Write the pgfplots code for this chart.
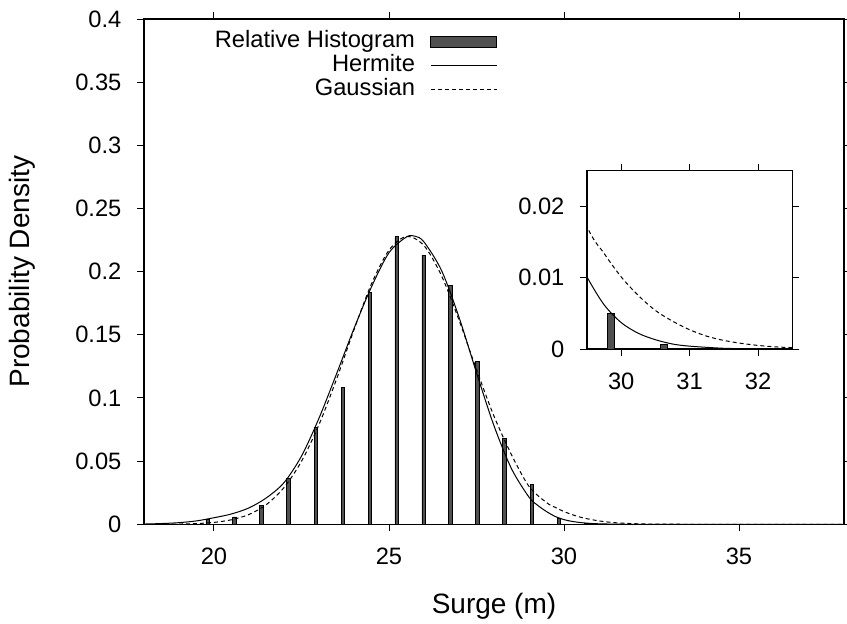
\documentclass[border=0pt]{standalone}
\usepackage{fontspec}
\setmainfont{Liberation Sans}
\usepackage{pgfplots}
\usepackage{pgfplotstable}
\pgfplotsset{compat=1.18}

\definecolor{barfill}{HTML}{505050}

% relative histogram
\pgfplotstableread{
x y
19.82 0.0042
20.59 0.0058
21.36 0.0150
22.13 0.0364
22.91 0.0765
23.68 0.1080
24.45 0.1835
25.22 0.2276
25.99 0.2131
26.76 0.1893
27.53 0.1286
28.30 0.0681
29.08 0.0317
29.85 0.0050
30.62 0.0006
}\histdata

% hermite model
\pgfplotstableread{
x y
18.0 0.0002
18.5 0.0006
19.0 0.0013
19.5 0.0027
20.0 0.0052
20.5 0.0082
21.0 0.0130
21.5 0.0210
22.0 0.0330
22.5 0.0540
23.0 0.0840
23.5 0.1190
24.0 0.1550
24.5 0.1880
25.0 0.2150
25.5 0.2275
25.75 0.2280
26.0 0.2235
26.5 0.2010
27.0 0.1640
27.5 0.1200
28.0 0.0780
28.5 0.0440
29.0 0.0215
29.25 0.0150
29.5 0.0101
29.75 0.0062
30.0 0.0037
30.25 0.0022
30.5 0.0013
30.75 0.0007
31.0 0.0004
31.5 0.0001
32.0 0.00002
32.5 0.0
33.0 0.0
38.0 0.0
}\hermdata

% gaussian model
\pgfplotstableread{
x y
18.0 0.00002
18.5 0.00007
19.0 0.0002
19.5 0.0006
20.0 0.0015
20.5 0.0036
21.0 0.0078
21.5 0.0157
22.0 0.0291
22.5 0.0499
23.0 0.0789
23.5 0.1148
24.0 0.1540
24.5 0.1904
25.0 0.2170
25.5 0.2279
26.0 0.2206
26.5 0.1968
27.0 0.1617
27.5 0.1225
28.0 0.0856
28.5 0.0551
29.0 0.0300
29.5 0.0172
29.75 0.0134
30.0 0.0101
30.25 0.0075
30.5 0.0054
30.75 0.0039
31.0 0.0027
31.25 0.0018
31.5 0.0012
31.75 0.0008
32.0 0.0005
32.25 0.0003
32.5 0.0002
33.0 0.0001
34.0 0.0
38.0 0.0
}\gaussdata

\pgfplotsset{
  gp/.style={
    scale only axis,
    tick pos=both,
    tick align=outside,
    major tick length=3.5pt,
    tick style={black, line width=0.5pt},
    axis line style={line width=0.6pt},
    tick label style={font=\fontsize{11.85}{14}\selectfont},
    /pgf/number format/assume math mode=true,
    scaled y ticks=false,
    yticklabel style={/pgf/number format/fixed, inner sep=0pt, xshift=-7.6pt},
    xticklabel style={inner sep=0pt, yshift=-8.3pt},
  },
}

\begin{document}
\begin{tikzpicture}
\path[use as bounding box] (-72pt,-49.35pt) rectangle (351.5pt,262.15pt);
\begin{axis}[gp,
  width=350pt, height=252.65pt,
  xmin=18, xmax=38, ymin=0, ymax=0.4,
  xtick={20,25,30,35},
  ytick={0,0.05,0.1,0.15,0.2,0.25,0.3,0.35,0.4},
  xlabel={Surge (m)},
  ylabel={Probability Density},
  every axis x label/.style={at={(axis description cs:0.5,-0.1623)}, anchor=center, font=\fontsize{14}{16}\selectfont},
  every axis y label/.style={at={(axis description cs:-0.1743,0.5)}, anchor=center, rotate=90, font=\fontsize{14}{16}\selectfont},
  legend plot pos=right,
  legend cell align=right,
  legend style={draw=none, fill=none, inner sep=0pt, at={(rel axis cs:0.5053,0.9777)}, anchor=north east,
    font=\fontsize{11.85}{14}\selectfont, column sep=7.65pt, row sep=0.9pt,
    nodes={inner sep=0pt, text height=8.6pt, text depth=2.5pt}},
]
\addplot[ybar, bar width=0.1, fill=barfill, draw=black, line width=0.4pt,
  legend image code/.code={\draw[fill=barfill, draw=black, line width=0.4pt] (0pt,-2.75pt) rectangle (33pt,2.75pt);}]
  table[x=x, y=y] {\histdata};
\addlegendentry{Relative Histogram}
\addplot[black, line width=0.5pt, smooth,
  legend image code/.code={\draw[black, line width=0.5pt] (0pt,0pt) -- (33pt,0pt);}]
  table[x=x, y=y] {\hermdata};
\addlegendentry{Hermite}
\addplot[black, line width=0.5pt, smooth, dash pattern=on 2pt off 1.5pt,
  legend image code/.code={\draw[black, line width=0.5pt, dash pattern=on 2pt off 1.5pt] (0pt,0pt) -- (33pt,0pt);}]
  table[x=x, y=y] {\gaussdata};
\addlegendentry{Gaussian}
\end{axis}

% inset: upper tail
\begin{axis}[gp,
  at={(221.5pt,87.65pt)}, anchor=south west,
  width=102.65pt, height=89.15pt,
  xmin=29.5, xmax=32.5, ymin=0, ymax=0.025,
  xtick={30,31,32},
  ytick={0,0.01,0.02},
  axis background/.style={fill=white},
]
\addplot[ybar, bar width=0.1, fill=barfill, draw=black, line width=0.4pt]
  table[x=x, y=y] {\histdata};
\addplot[black, line width=0.5pt, smooth] table[x=x, y=y] {\hermdata};
\addplot[black, line width=0.5pt, smooth, dash pattern=on 2pt off 1.5pt] table[x=x, y=y] {\gaussdata};
\end{axis}
\end{tikzpicture}
\end{document}
